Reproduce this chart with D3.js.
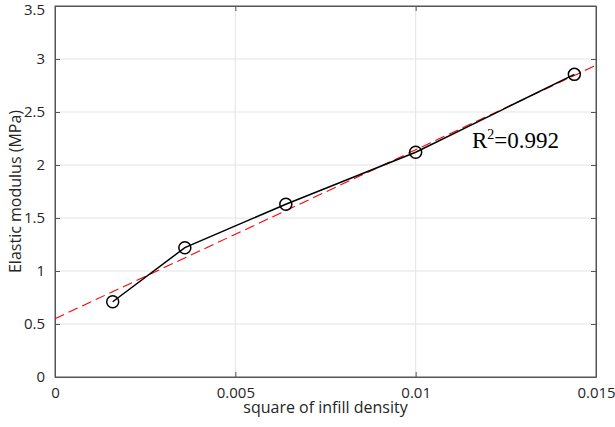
<!DOCTYPE html>
<html><head><meta charset="utf-8">
<script src="https://cdn.jsdelivr.net/npm/d3@7"></script>
<style>body{margin:0;background:#fff}svg{display:block}</style>
</head><body>
<script>
const xValues = [0.0016, 0.0036, 0.0064, 0.01, 0.0144];
const yValues = [0.71, 1.22, 1.63, 2.12, 2.855];
const fitX = [0, 0.015];
const fitY = [0.55, 2.94];
const xTicks = [0, 0.005, 0.01, 0.015];
const yTicks = [0, 0.5, 1, 1.5, 2, 2.5, 3, 3.5];
const xTickLabels = ["0", "0.005", "0.01", "0.015"];
const yTickLabels = ["0", "0.5", "1", "1.5", "2", "2.5", "3", "3.5"];

const W = 615, H = 427;
const m = {left: 55, right: 19, top: 6, bottom: 50};
const svg = d3.select("body").append("svg").attr("width", W).attr("height", H);
const x = d3.scaleLinear().domain([0, 0.015]).range([m.left, W - m.right]);
const y = d3.scaleLinear().domain([0, 3.5]).range([H - m.bottom, m.top]);
const font = "'Open Sans', 'DejaVu Sans', sans-serif";

// grid
svg.append("g").selectAll("line").data(xTicks.slice(1, -1)).join("line")
  .attr("x1", d => x(d)).attr("x2", d => x(d)).attr("y1", y(0)).attr("y2", y(3.5))
  .attr("stroke", "#e3e3e3").attr("stroke-width", 1);
svg.append("g").selectAll("line").data(yTicks.slice(1, -1)).join("line")
  .attr("x1", x(0)).attr("x2", x(0.015)).attr("y1", d => y(d)).attr("y2", d => y(d))
  .attr("stroke", "#e3e3e3").attr("stroke-width", 1);

// box
svg.append("rect").attr("x", x(0)).attr("y", y(3.5))
  .attr("width", x(0.015) - x(0)).attr("height", y(0) - y(3.5))
  .attr("fill", "none").attr("stroke", "#555").attr("stroke-width", 1);

// axes
const xAxis = d3.axisBottom(x).tickValues(xTicks).tickFormat((d, i) => xTickLabels[i]).tickSizeInner(-5).tickSizeOuter(0).tickPadding(10);
const gx = svg.append("g").attr("transform", `translate(0,${y(0)})`).call(xAxis);
const yAxis = d3.axisLeft(y).tickValues(yTicks).tickFormat((d, i) => yTickLabels[i]).tickSizeInner(-5).tickSizeOuter(0).tickPadding(10);
const gy = svg.append("g").attr("transform", `translate(${x(0)},0)`).call(yAxis);
// top/right ticks
const gxt = svg.append("g").attr("transform", `translate(0,${y(3.5)})`).call(d3.axisTop(x).tickValues(xTicks).tickFormat("").tickSizeInner(-5).tickSizeOuter(0));
const gyr = svg.append("g").attr("transform", `translate(${x(0.015)},0)`).call(d3.axisRight(y).tickValues(yTicks).tickFormat("").tickSizeInner(-5).tickSizeOuter(0));
[gx, gy, gxt, gyr].forEach(g => {
  g.select(".domain").attr("stroke", "#555");
  g.selectAll(".tick line").attr("stroke", "#555");
  g.selectAll("text").attr("fill", "#262626").style("font-family", font).style("font-size", "15px");
});
gy.selectAll(".tick text").filter(d => d === 3.5).attr("dy", "0.58em");

// fit line
const line = d3.line().x(d => x(d[0])).y(d => y(d[1]));
svg.append("path").datum(fitX.map((d, i) => [d, fitY[i]])).attr("d", line)
  .attr("fill", "none").attr("stroke", "#ff0000").attr("stroke-width", 1.1).attr("stroke-dasharray", "10,5");

// data line
const pts = xValues.map((d, i) => [d, yValues[i]]);
svg.append("path").datum(pts).attr("d", line)
  .attr("fill", "none").attr("stroke", "#000").attr("stroke-width", 1.5);
svg.append("g").selectAll("circle").data(pts).join("circle")
  .attr("cx", d => x(d[0])).attr("cy", d => y(d[1])).attr("r", 6)
  .attr("fill", "none").attr("stroke", "#000").attr("stroke-width", 1.5);

// R^2 label
const rt = svg.append("text").attr("x", 472).attr("y", 148)
  .style("font-family", "'Liberation Serif', 'DejaVu Serif', serif").style("font-size", "23px").attr("fill", "#000");
rt.append("tspan").text("R");
rt.append("tspan").text("2").attr("dy", -9).style("font-size", "14px");
rt.append("tspan").text("=0.992").attr("dy", 9);

// axis labels
svg.append("text").attr("x", (x(0) + x(0.015)) / 2).attr("y", 413).attr("text-anchor", "middle")
  .style("font-family", font).style("font-size", "16px").attr("fill", "#262626").text("square of infill density");
svg.append("text").attr("transform", `translate(21,${(y(0) + y(3.5)) / 2}) rotate(-90)`).attr("text-anchor", "middle")
  .style("font-family", font).style("font-size", "16px").attr("fill", "#262626").text("Elastic modulus (MPa)");
</script>
</body></html>
